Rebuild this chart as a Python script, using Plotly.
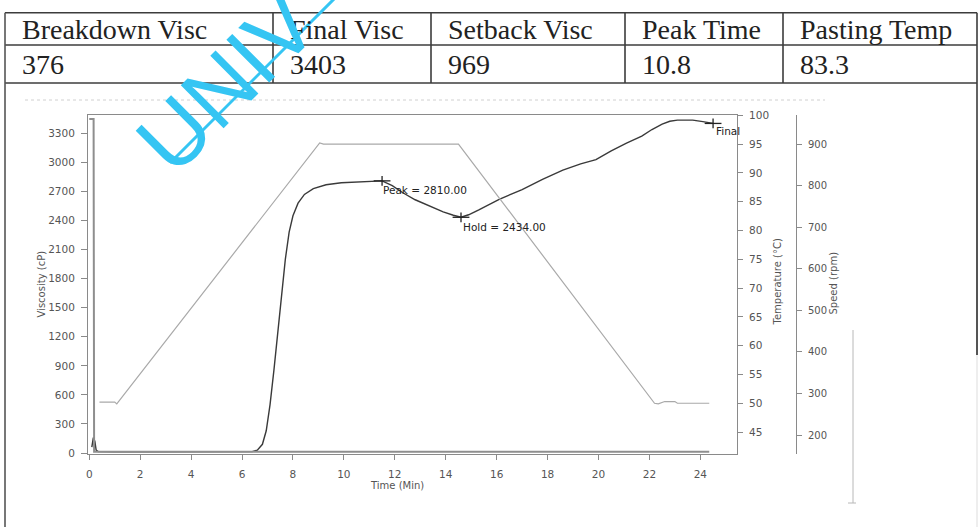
import plotly.graph_objects as go

W, H = 980, 527

# ---- summary table ----
table_headers = ["Breakdown Visc", "Final Visc", "Setback Visc", "Peak Time", "Pasting Temp"]
table_values = ["376", "3403", "969", "10.8", "83.3"]

# ---- RVA pasting curve ----
visc_time = [0.10, 0.16, 0.22, 0.27, 0.35, 0.6, 1.0, 2.0, 3.0, 4.0, 5.0, 6.0, 6.4,
             6.6, 6.8, 6.95, 7.1, 7.25, 7.4, 7.55, 7.7, 7.85, 8.0, 8.2, 8.45, 8.8,
             9.3, 9.9, 10.5, 11.0, 11.5, 11.9, 12.3, 12.8, 13.4, 13.9, 14.3, 14.6,
             14.9, 15.3, 16.1, 17.0, 17.8, 18.6, 19.3, 19.9, 20.5, 21.1, 21.7, 22.1,
             22.5, 22.8, 23.1, 23.7, 24.1, 24.5]
visc_cp = [60, 160, 120, 30, 15, 12, 12, 12, 12, 12, 12, 13, 15,
           30, 90, 230, 500, 850, 1250, 1650, 2000, 2280, 2450, 2580, 2670, 2730,
           2770, 2790, 2800, 2805, 2810, 2760, 2690, 2615, 2546, 2490, 2455, 2434,
           2460, 2510, 2619, 2720, 2826, 2920, 2985, 3030, 3120, 3200, 3271, 3340,
           3395, 3425, 3437, 3437, 3422, 3403]

temp_time = [0.4, 1.0, 1.08, 9.05, 9.2, 14.5, 22.2, 22.35, 22.6, 23.0, 23.1, 24.35]
temp_c = [50.2, 50.2, 49.9, 95.2, 95.0, 95.0, 50.0, 49.9, 50.3, 50.3, 50.0, 50.0]

speed_time = [0.0, 0.17, 0.19, 24.35]
speed_rpm = [960, 960, 160, 160]

peak_time, peak_visc = 11.5, 2810.00
hold_time, hold_visc = 14.6, 2434.00
final_time, final_visc = 24.5, 3403

visc_ticks = list(range(0, 3301, 300))
temp_ticks = list(range(45, 101, 5))
speed_ticks = list(range(200, 901, 100))
time_ticks = list(range(0, 25, 2))


def px(x):
    return x / W


def py(y):
    return 1 - y / H


AX = "#8a8a8a"
TICKF = "DejaVu Sans"

fig = go.Figure()

fig.add_trace(go.Scatter(x=speed_time, y=speed_rpm, yaxis="y3", mode="lines",
                         line=dict(color="#8e8e8e", width=2), hoverinfo="skip"))
fig.add_trace(go.Scatter(x=temp_time, y=temp_c, yaxis="y2", mode="lines",
                         line=dict(color="#a9a9a9", width=1.2), hoverinfo="skip"))
fig.add_trace(go.Scatter(x=visc_time, y=visc_cp, yaxis="y", mode="lines",
                         line=dict(color="#3a3a3a", width=1.4), hoverinfo="skip"))

# event markers
ev_t = [peak_time, hold_time, final_time]
ev_v = [peak_visc, hold_visc, final_visc]
fig.add_trace(go.Scatter(x=ev_t, y=ev_v, mode="markers",
                         marker=dict(symbol="line-ew-open", size=12, color="#222",
                                     line=dict(color="#222", width=1.3)),
                         hoverinfo="skip"))
fig.add_trace(go.Scatter(x=ev_t, y=ev_v, mode="markers",
                         marker=dict(symbol="line-ns-open", size=7, color="#222",
                                     line=dict(color="#222", width=1.3)),
                         hoverinfo="skip"))

ann = []
lab_font = dict(family=TICKF, size=10.5, color="#222")
ann.append(dict(x=peak_time, y=peak_visc, xref="x", yref="y", text=f"Peak = {peak_visc:.2f}",
                showarrow=False, xanchor="left", yanchor="top", xshift=-1, yshift=-1, font=lab_font))
ann.append(dict(x=hold_time, y=hold_visc, xref="x", yref="y", text=f"Hold = {hold_visc:.2f}",
                showarrow=False, xanchor="left", yanchor="top", xshift=0, yshift=-2, font=lab_font))
ann.append(dict(x=final_time, y=final_visc, xref="x", yref="y", text="Final",
                showarrow=False, xanchor="left", yanchor="top", xshift=1, yshift=0, font=lab_font))

# axis titles
title_font = dict(family=TICKF, size=10, color="#555")
ann.append(dict(x=px(33), y=py(284), xref="paper", yref="paper", text="Viscosity (cP)",
                textangle=-90, showarrow=False, font=title_font))
ann.append(dict(x=px(784), y=py(282), xref="paper", yref="paper", text="Temperature (°C)",
                textangle=-90, showarrow=False, font=title_font))
ann.append(dict(x=px(840), y=py(283), xref="paper", yref="paper", text="Speed (rpm)",
                textangle=-90, showarrow=False, font=title_font))
ann.append(dict(x=px(397), y=py(493), xref="paper", yref="paper", text="Time (Min)",
                showarrow=False, font=title_font))

# table text
col_x = [5, 273, 431, 625, 783, 977]
row_y = [12.7, 45, 83]
tfont = dict(family="Liberation Serif", size=28, color="#222")
for i, (hd, val) in enumerate(zip(table_headers, table_values)):
    ann.append(dict(x=px(col_x[i] + 15), y=py(29), xref="paper", yref="paper", text=hd,
                    showarrow=False, xanchor="left", yanchor="middle", font=tfont))
    ann.append(dict(x=px(col_x[i] + 15), y=py(65), xref="paper", yref="paper", text=val,
                    showarrow=False, xanchor="left", yanchor="middle", font=tfont))

# watermark
ann.append(dict(x=px(226), y=py(82), xref="paper", yref="paper", text="UNIV",
                textangle=-45, showarrow=False, xanchor="center", yanchor="middle",
                font=dict(family="Liberation Sans", size=88, color="#35C5F3")))

shapes = []
line_col = "#3c3c3c"
for yv in row_y:
    shapes.append(dict(type="line", xref="paper", yref="paper", x0=px(col_x[0]), x1=px(col_x[-1]),
                       y0=py(yv), y1=py(yv), line=dict(color=line_col, width=1.6)))
for xv in col_x[1:-1]:
    shapes.append(dict(type="line", xref="paper", yref="paper", x0=px(xv), x1=px(xv),
                       y0=py(row_y[0]), y1=py(row_y[-1]), line=dict(color=line_col, width=1.6)))
# outer cell frame
shapes.append(dict(type="line", xref="paper", yref="paper", x0=px(5), x1=px(5),
                   y0=py(row_y[0]), y1=py(527), line=dict(color="#555", width=1.6)))
shapes.append(dict(type="line", xref="paper", yref="paper", x0=px(977), x1=px(977),
                   y0=py(row_y[0]), y1=py(160), line=dict(color=line_col, width=1.6)))
shapes.append(dict(type="line", xref="paper", yref="paper", x0=px(977), x1=px(977),
                   y0=py(160), y1=py(355), line=dict(color="#555", width=2)))
shapes.append(dict(type="line", xref="paper", yref="paper", x0=px(977), x1=px(977),
                   y0=py(355), y1=py(527), line=dict(color="#ddd", width=1)))
# faint inner chart border
shapes.append(dict(type="line", xref="paper", yref="paper", x0=px(25), x1=px(825),
                   y0=py(100), y1=py(100), line=dict(color="#d0d0d0", width=1, dash="dot")))
shapes.append(dict(type="line", xref="paper", yref="paper", x0=px(853), x1=px(853),
                   y0=py(330), y1=py(503), line=dict(color="#b8b8b8", width=1)))
shapes.append(dict(type="line", xref="paper", yref="paper", x0=px(848), x1=px(856),
                   y0=py(503), y1=py(503), line=dict(color="#b8b8b8", width=1)))
# watermark stroke
shapes.append(dict(type="line", xref="paper", yref="paper", x0=px(170), x1=px(342),
                   y0=py(163), y1=py(-9), line=dict(color="#35C5F3", width=3)))

y_dom = [py(454), py(115)]

fig.update_layout(
    template="none",
    width=W, height=H,
    margin=dict(l=0, r=0, t=0, b=0),
    paper_bgcolor="white", plot_bgcolor="white",
    showlegend=False,
    xaxis=dict(domain=[px(88), px(737)], range=[-0.05, 25.44], tickvals=time_ticks,
               showline=True, linecolor=AX, linewidth=1, mirror=True,
               ticks="outside", ticklen=5, tickcolor=AX, showgrid=False, zeroline=False,
               tickfont=dict(family=TICKF, size=10.5, color="#555"), ticklabelstandoff=5,
               automargin=False),
    yaxis=dict(domain=y_dom, range=[-10, 3490], tickvals=visc_ticks,
               showline=True, linecolor=AX, linewidth=1,
               ticks="outside", ticklen=6, tickcolor=AX, showgrid=False, zeroline=False,
               tickfont=dict(family=TICKF, size=10.5, color="#555"), ticklabelstandoff=4,
               automargin=False),
    yaxis2=dict(overlaying="y", side="right", anchor="x", range=[41.19, 100.05],
                tickvals=temp_ticks, showline=True, linecolor=AX, linewidth=1,
                ticks="outside", ticklen=5, tickcolor=AX, showgrid=False, zeroline=False,
                tickfont=dict(family=TICKF, size=10.5, color="#555"), ticklabelstandoff=4,
                automargin=False),
    yaxis3=dict(overlaying="y", side="right", anchor="free", position=px(796),
                range=[154.3, 969.8], tickvals=speed_ticks, showline=True, linecolor=AX,
                linewidth=1, ticks="outside", ticklen=5, tickcolor=AX, showgrid=False,
                zeroline=False, tickfont=dict(family=TICKF, size=10, color="#555"),
                ticklabelstandoff=4, automargin=False),
    annotations=ann,
    shapes=shapes,
)

fig.write_html("out.html")
